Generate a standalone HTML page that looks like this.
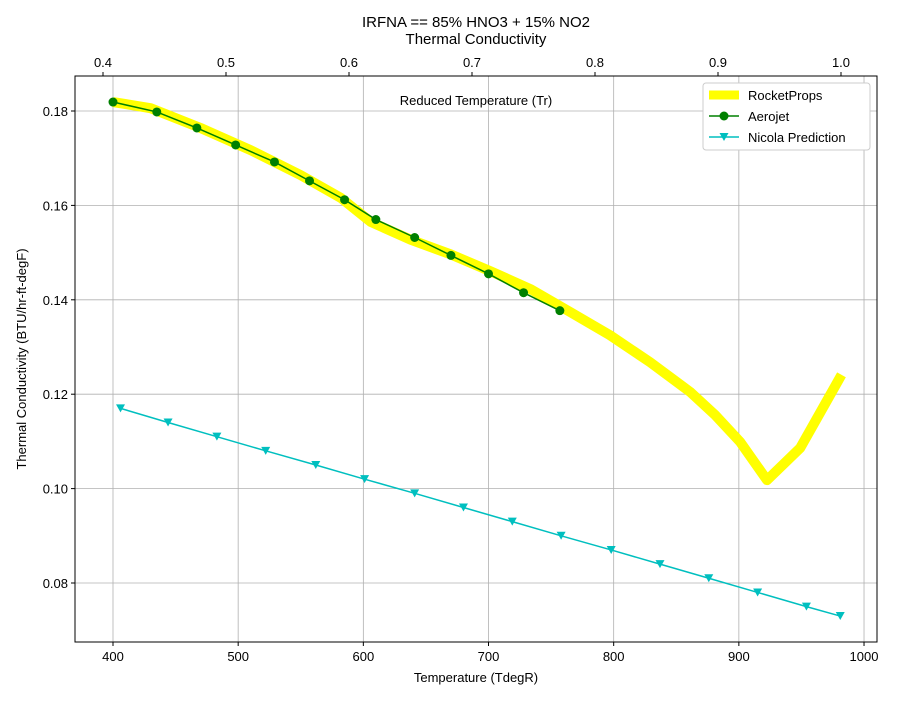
<!DOCTYPE html>
<html><head><meta charset="utf-8"><style>
body{margin:0;background:#fff;}
svg text{font-family:"Liberation Sans","DejaVu Sans",sans-serif;fill:#000;}
</style></head><body>
<svg id="chart" width="900" height="700" xmlns="http://www.w3.org/2000/svg">
<rect width="900" height="700" fill="#fff"/>
<g id="grid"></g>
<g id="series"></g>
<g id="axes"></g>
<text x="476" y="27" text-anchor="middle" font-size="15">IRFNA == 85% HNO3 + 15% NO2</text>
<text x="476" y="44" text-anchor="middle" font-size="15">Thermal Conductivity</text>
<text x="476" y="105" text-anchor="middle" font-size="13">Reduced Temperature (Tr)</text>
<text x="476" y="682" text-anchor="middle" font-size="13">Temperature (TdegR)</text>
<text x="26" y="359" text-anchor="middle" font-size="13" transform="rotate(-90 26 359)">Thermal Conductivity (BTU/hr-ft-degF)</text>
<g>
<rect x="703" y="83" width="167" height="67" fill="#fff" stroke="#ccc" rx="3"/>
<line x1="709" y1="95" x2="739" y2="95" stroke="#ffff00" stroke-width="9"/>
<text x="748" y="100" font-size="13">RocketProps</text>
<line x1="709" y1="116" x2="739" y2="116" stroke="#008000" stroke-width="1.5"/>
<circle cx="724" cy="116" r="4.5" fill="#008000"/>
<text x="748" y="121" font-size="13">Aerojet</text>
<line x1="709" y1="137" x2="739" y2="137" stroke="#00bfbf" stroke-width="1.5"/>
<path d="M719.5,133 L728.5,133 L724,141 Z" fill="#00bfbf"/>
<text x="748" y="142" font-size="13">Nicola Prediction</text>
</g>
</svg>
<script>
const xTicks=[400,500,600,700,800,900,1000];
const yTicks=[0.08,0.10,0.12,0.14,0.16,0.18];
const trTicks=[0.4,0.5,0.6,0.7,0.8,0.9,1.0];
const trLabels=["0.4","0.5","0.6","0.7","0.8","0.9","1.0"];
const rpX=[400,430,470,510,550,582,606,638,670,702,734,766,797,829,861,881,901,922.5,949,982];
const rpY=[0.1819,0.1806,0.1764,0.1717,0.1664,0.1616,0.1565,0.1527,0.1496,0.1460,0.1422,0.1373,0.1325,0.1268,0.1205,0.1156,0.1099,0.1018,0.1086,0.1241];
const ajX=[400,435,467,498,529,557,585,610,641,670,700,728,757];
const ajY=[0.1819,0.1798,0.1764,0.1728,0.1692,0.1652,0.1612,0.1570,0.1532,0.1494,0.1455,0.1415,0.1377];
const nvX=[406,444,483,522,562,601,641,680,719,758,798,837,876,915,954,981];
const nvY=[0.117,0.114,0.111,0.108,0.105,0.102,0.099,0.096,0.093,0.090,0.087,0.084,0.081,0.078,0.075,0.073];
const L=75,R=877,T=76,B=642;
const sx=v=>113+(v-400)*1.2517;
const sy=v=>111+(0.18-v)*4720;
const st=v=>103+(v-0.4)*1230;
const NS="http://www.w3.org/2000/svg";
function mk(tag,attrs,parent){const e=document.createElementNS(NS,tag);for(const k in attrs)e.setAttribute(k,attrs[k]);parent.appendChild(e);return e;}
const grid=document.getElementById('grid'),axes=document.getElementById('axes'),ser=document.getElementById('series');
xTicks.forEach(v=>{const x=sx(v);
 const g=mk('line',{x1:x,x2:x,y1:T,y2:B,stroke:'#b0b0b0','stroke-width':0.8},grid);
 
 
 mk('line',{x1:x,x2:x,y1:B,y2:B+4,stroke:'#000'},axes);
 const t=mk('text',{x:x,y:B+19,'text-anchor':'middle','font-size':13},axes);t.textContent=v;
 
 });
yTicks.forEach(v=>{const y=sy(v);
 const g=mk('line',{x1:L,x2:R,y1:y,y2:y,stroke:'#b0b0b0','stroke-width':0.8},grid);
 
 
 mk('line',{x1:L-4,x2:L,y1:y,y2:y,stroke:'#000'},axes);
 const t=mk('text',{x:L-7,y:y+5,'text-anchor':'end','font-size':13},axes);t.textContent=v.toFixed(2);
 
 });
trTicks.forEach((v,i)=>{const x=st(v);
 mk('line',{x1:x,x2:x,y1:T-4,y2:T,stroke:'#000'},axes);
 const t=mk('text',{x:x,y:T-9,'text-anchor':'middle','font-size':13},axes);t.textContent=trLabels[i];
 
 });
const fr=mk('rect',{x:L,y:T,width:R-L,height:B-T,fill:'none',stroke:'#000','stroke-width':1},axes);


const pts=(xs,ys)=>xs.map((x,i)=>sx(x)+','+sy(ys[i])).join(' ');
const rp=mk('polyline',{points:pts(rpX,rpY),fill:'none',stroke:'#ffff00','stroke-width':10,'stroke-linejoin':'round'},ser);


const aj=mk('polyline',{points:pts(ajX,ajY),fill:'none',stroke:'#008000','stroke-width':1.5},ser);


ajX.forEach((x,i)=>{const c=mk('circle',{cx:sx(x),cy:sy(ajY[i]),r:4.5,fill:'#008000'},ser);
 
 });
const nv=mk('polyline',{points:pts(nvX,nvY),fill:'none',stroke:'#00bfbf','stroke-width':1.5},ser);


nvX.forEach((x,i)=>{const px=sx(x),py=sy(nvY[i]);
 const p=mk('path',{d:`M${px-4.5},${py-4} L${px+4.5},${py-4} L${px},${py+4} Z`,fill:'#00bfbf'},ser);
 
 });
</script>
</body></html>
